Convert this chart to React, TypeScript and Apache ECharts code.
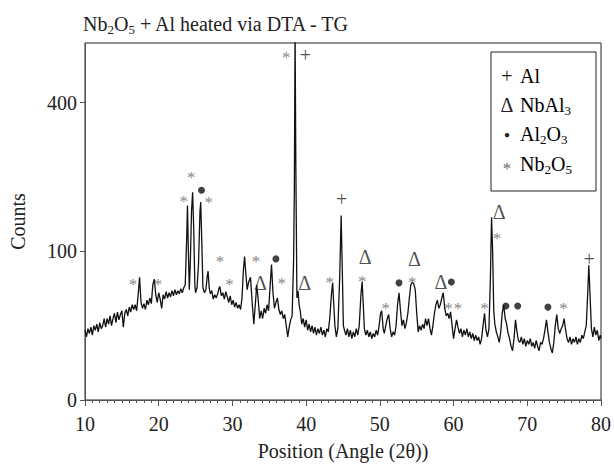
import React, { useEffect, useRef } from "react";
import * as echarts from "echarts";

// Diffraction pattern: [angle 2θ (deg), counts]
const pattern: [number, number][] = [
  [10.0, 22], [10.2, 18], [10.4, 23], [10.6, 20], [10.8, 24], [11.0, 19], [11.2, 25], [11.4, 22], [11.6, 26], [11.8, 21],
  [12.0, 27], [12.2, 23], [12.4, 25], [12.6, 30], [12.8, 24], [13.0, 30], [13.2, 26], [13.4, 32], [13.6, 25], [13.8, 30],
  [14.0, 34], [14.2, 27], [14.4, 35], [14.6, 29], [14.8, 33], [15.0, 36], [15.2, 24], [15.4, 34], [15.6, 37], [15.8, 32],
  [16.0, 39], [16.2, 35], [16.4, 41], [16.6, 37], [16.8, 41], [17.0, 36], [17.2, 49], [17.4, 68], [17.6, 43], [17.8, 38],
  [18.0, 42], [18.2, 37], [18.4, 45], [18.6, 41], [18.8, 47], [19.0, 42], [19.2, 60], [19.4, 66], [19.6, 50], [19.8, 43],
  [20.0, 52], [20.2, 46], [20.4, 38], [20.6, 50], [20.8, 46], [21.0, 53], [21.2, 47], [21.4, 52], [21.6, 48], [21.8, 54],
  [22.0, 49], [22.2, 55], [22.4, 50], [22.6, 54], [22.8, 51], [23.0, 56], [23.2, 52], [23.4, 57], [23.6, 60], [23.8, 120],
  [23.9, 171], [24.0, 111], [24.15, 55], [24.3, 89], [24.45, 161], [24.6, 195], [24.75, 132], [24.9, 60], [25.0, 52], [25.2, 57],
  [25.4, 84], [25.6, 161], [25.7, 177], [25.85, 111], [26.0, 57], [26.2, 52], [26.4, 55], [26.6, 70], [26.7, 75], [26.85, 57],
  [27.0, 51], [27.2, 54], [27.4, 46], [27.6, 50], [27.8, 47], [28.0, 51], [28.2, 57], [28.3, 58], [28.5, 49], [28.7, 52],
  [28.9, 46], [29.1, 53], [29.3, 48], [29.5, 43], [29.7, 49], [29.9, 41], [30.1, 45], [30.3, 39], [30.5, 43], [30.7, 38],
  [30.9, 41], [31.1, 37], [31.3, 47], [31.5, 78], [31.65, 93], [31.8, 74], [32.0, 55], [32.2, 63], [32.45, 68], [32.7, 41],
  [32.9, 26], [33.1, 41], [33.3, 60], [33.5, 45], [33.7, 30], [33.9, 36], [34.1, 30], [34.3, 38], [34.5, 34], [34.7, 41],
  [34.9, 36], [35.1, 57], [35.3, 83], [35.5, 52], [35.7, 38], [35.9, 43], [36.1, 47], [36.3, 37], [36.5, 33], [36.7, 36],
  [36.9, 30], [37.1, 33], [37.3, 25], [37.5, 18], [37.7, 24], [37.9, 29], [38.1, 32], [38.3, 89], [38.4, 200], [38.5, 620],
  [38.6, 250], [38.75, 47], [38.9, 54], [39.05, 41], [39.2, 36], [39.4, 26], [39.6, 30], [39.8, 24], [40.0, 29], [40.2, 22],
  [40.4, 26], [40.6, 21], [40.8, 25], [41.0, 20], [41.2, 24], [41.4, 19], [41.6, 23], [41.8, 20], [42.0, 24], [42.2, 19],
  [42.4, 22], [42.6, 18], [42.8, 23], [43.0, 21], [43.2, 30], [43.45, 52], [43.6, 62], [43.75, 41], [43.9, 25], [44.1, 18],
  [44.3, 23], [44.55, 68], [44.75, 154], [44.9, 78], [45.05, 25], [45.2, 22], [45.4, 19], [45.6, 23], [45.8, 18], [46.0, 22],
  [46.2, 17], [46.4, 21], [46.6, 18], [46.8, 23], [47.0, 19], [47.2, 25], [47.45, 52], [47.6, 63], [47.75, 41], [47.9, 23],
  [48.1, 19], [48.3, 22], [48.5, 18], [48.7, 21], [48.9, 17], [49.1, 20], [49.3, 18], [49.5, 22], [49.7, 19], [49.9, 25],
  [50.1, 34], [50.25, 36], [50.45, 23], [50.6, 20], [50.8, 25], [51.0, 30], [51.2, 33], [51.4, 23], [51.6, 18], [51.8, 21],
  [52.0, 19], [52.2, 25], [52.4, 41], [52.6, 52], [52.8, 36], [53.0, 25], [53.2, 29], [53.4, 23], [53.6, 27], [53.8, 34],
  [54.0, 47], [54.2, 60], [54.4, 63], [54.6, 61], [54.8, 55], [55.0, 34], [55.2, 21], [55.4, 25], [55.6, 22], [55.8, 26],
  [56.0, 23], [56.2, 30], [56.4, 25], [56.6, 30], [56.8, 23], [57.0, 19], [57.2, 25], [57.4, 34], [57.6, 41], [57.8, 45],
  [58.0, 38], [58.2, 41], [58.4, 47], [58.6, 52], [58.8, 38], [59.0, 32], [59.2, 34], [59.4, 30], [59.6, 35], [59.8, 25],
  [60.0, 17], [60.2, 23], [60.4, 29], [60.6, 24], [60.8, 20], [61.0, 23], [61.2, 18], [61.4, 22], [61.6, 19], [61.8, 23],
  [62.0, 18], [62.2, 21], [62.4, 17], [62.6, 20], [62.8, 16], [63.0, 19], [63.2, 16], [63.4, 18], [63.6, 14], [63.8, 17],
  [64.0, 25], [64.2, 34], [64.4, 22], [64.6, 18], [64.8, 23], [65.0, 68], [65.15, 151], [65.3, 100], [65.45, 36], [65.6, 26],
  [65.8, 21], [66.0, 18], [66.2, 15], [66.4, 21], [66.6, 34], [66.8, 41], [67.0, 30], [67.2, 26], [67.4, 20], [67.6, 17],
  [67.8, 13], [68.0, 11], [68.2, 17], [68.4, 29], [68.6, 21], [68.8, 16], [69.0, 15], [69.2, 18], [69.4, 14], [69.6, 17],
  [69.8, 13], [70.0, 16], [70.2, 14], [70.4, 17], [70.6, 13], [70.8, 15], [71.0, 12], [71.2, 16], [71.4, 13], [71.6, 11],
  [71.8, 15], [72.0, 14], [72.2, 17], [72.4, 22], [72.6, 29], [72.8, 21], [73.0, 15], [73.2, 12], [73.4, 10], [73.6, 15],
  [73.8, 25], [74.0, 33], [74.2, 23], [74.4, 20], [74.6, 23], [74.8, 25], [75.0, 30], [75.2, 22], [75.4, 17], [75.6, 15],
  [75.8, 18], [76.0, 14], [76.2, 17], [76.4, 15], [76.6, 18], [76.8, 14], [77.0, 17], [77.2, 15], [77.4, 19], [77.6, 17],
  [77.8, 21], [78.0, 25], [78.2, 52], [78.35, 82], [78.5, 52], [78.7, 23], [78.9, 18], [79.1, 24], [79.3, 19], [79.5, 22],
  [79.7, 16], [79.9, 19], [80.0, 17],
];

// Phase markers: [angle, counts at which the marker sits]
const plusMarks: [number, number][] = [[39.9, 539], [44.8, 182], [78.4, 90]];
const deltaMarks: [number, number][] = [[33.8, 62], [39.8, 62], [48.0, 92], [54.7, 90], [58.3, 63], [66.2, 159]];
const dotMarks: [number, number][] = [[25.8, 199], [35.9, 90], [52.6, 62], [59.7, 63], [67.1, 40], [68.7, 40], [72.8, 39]];
const starMarks: [number, number][] = [
  [16.5, 65], [19.9, 65], [23.4, 186], [24.4, 232], [26.8, 184], [28.3, 92], [29.6, 65], [33.2, 92], [36.7, 66],
  [37.3, 542], [43.2, 67], [47.6, 68], [50.8, 41], [54.4, 67], [59.3, 41], [60.6, 41], [64.2, 41], [65.9, 124], [74.9, 41],
];

const yTickCounts = [0, 100, 400];
const yMaxCounts = 576;
const xMin = 10;
const xMax = 80;
const xStep = 10;

const FONT = "Liberation Serif";

// square-root intensity scale
const toAxis = (c: number) => Math.sqrt(Math.max(c, 0));
const fromAxis = (v: number) => v * v;

export default function App() {
  const ref = useRef<HTMLDivElement>(null);

  useEffect(() => {
    if (!ref.current) return;
    const chart = echarts.init(ref.current, null, { renderer: "svg" });

    const markerSeries = (
      data: [number, number][],
      text: string,
      color: string,
      fontSize: number,
      offset: [number, number]
    ) => ({
      type: "scatter",
      data: data.map(([a, c]) => [a, toAxis(c)]),
      symbol: "circle",
      symbolSize: 1,
      color,
      itemStyle: { color: "rgba(255,255,255,0)" },
      silent: true,
      z: 5,
      clip: false,
      label: {
        show: true,
        position: "inside",
        formatter: text,
        color,
        fontSize,
        fontFamily: FONT,
        fontWeight: "normal",
        textBorderWidth: 0,
        textBorderColor: "transparent",
        offset,
      },
    });

    const sub = { fontSize: 13, fontFamily: FONT, color: "#222", padding: [11, 0, 0, 0] };
    const main = { fontSize: 20, fontFamily: FONT, color: "#222" };

    const legendRows = [
      { sym: "+", text: "{a|Al}", y: 76 },
      { sym: "Δ", text: "{a|NbAl}{s|3}", y: 105 },
      { sym: "●", text: "{a|Al}{s|2}{a|O}{s|3}", y: 134 },
      { sym: "*", text: "{a|Nb}{s|2}{a|O}{s|5}", y: 164 },
    ];

    const option: any = {
      animation: false,
      backgroundColor: "#ffffff",
      title: {
        text: "{a|Nb}{s|2}{a|O}{s|5}{a| + Al heated via DTA - TG}",
        left: 83,
        top: 12,
        padding: 0,
        textStyle: { fontWeight: "normal", fontFamily: FONT, rich: { a: main, s: sub } },
      },
      grid: {
        left: 84,
        top: 43,
        width: 517,
        height: 357,
        show: true,
        borderColor: "#222",
        borderWidth: 1,
        backgroundColor: "transparent",
      },
      xAxis: {
        type: "value",
        min: xMin,
        max: xMax,
        interval: xStep,
        name: "Position (Angle (2θ))",
        nameLocation: "middle",
        nameGap: 41,
        nameTextStyle: { fontSize: 20, fontFamily: FONT, color: "#222" },
        axisLine: { lineStyle: { color: "#555", width: 1 } },
        axisTick: { show: true, length: 6, lineStyle: { color: "#555" } },
        minorTick: { show: true, splitNumber: 10, length: 3, lineStyle: { color: "#555" } },
        splitLine: { show: false },
        axisLabel: { fontSize: 20, fontFamily: FONT, color: "#222", margin: 14 },
      },
      yAxis: {
        type: "value",
        min: 0,
        max: toAxis(yMaxCounts),
        name: "Counts",
        nameLocation: "middle",
        nameGap: 57,
        nameTextStyle: { fontSize: 20, fontFamily: FONT, color: "#222" },
        axisLine: { show: true, lineStyle: { color: "#555", width: 1 } },
        axisTick: {
          show: true,
          length: 5,
          customValues: yTickCounts.map(toAxis),
          lineStyle: { color: "#555" },
        },
        axisLabel: {
          fontSize: 20,
          fontFamily: FONT,
          color: "#222",
          margin: 8,
          customValues: yTickCounts.map(toAxis),
          formatter: (v: number) => String(Math.round(fromAxis(v))),
        },
        splitLine: { show: false },
      },
      series: [
        {
          type: "line",
          data: pattern.map(([a, c]) => [a, toAxis(c)]),
          showSymbol: false,
          symbol: "none",
          lineStyle: { color: "#111", width: 1.3 },
          silent: true,
          z: 3,
        },
        markerSeries(plusMarks, "+", "#222", 20, [0, 0]),
        markerSeries(deltaMarks, "Δ", "#222", 20, [0, 0]),
        markerSeries(starMarks, "*", "#666", 17, [0, 4]),
        {
          type: "scatter",
          data: dotMarks.map(([a, c]) => [a, toAxis(c)]),
          symbol: "circle",
          symbolSize: 7,
          itemStyle: { color: "#111" },
          silent: true,
          z: 5,
        },
      ],
      graphic: [
        {
          type: "rect",
          shape: { x: 491, y: 52, width: 105, height: 139 },
          style: { fill: "#fff", stroke: "#222", lineWidth: 1 },
          z: 10,
        },
        ...legendRows.flatMap((r) => [
          {
            type: "text",
            x: 507,
            y: r.sym === "*" ? r.y + 4 : r.y,
            z: 11,
            style: {
              text: r.sym,
              fontSize: r.sym === "●" ? 10 : r.sym === "*" ? 17 : 20,
              fontFamily: FONT,
              fill: r.sym === "*" ? "#666" : "#222",
              align: "center",
              verticalAlign: "middle",
            },
          },
          {
            type: "text",
            x: 520,
            y: r.y,
            z: 11,
            style: {
              text: r.text,
              fontFamily: FONT,
              align: "left",
              verticalAlign: "middle",
              rich: { a: main, s: sub },
            },
          },
        ]),
      ],
    };

    chart.setOption(option);
    return () => chart.dispose();
  }, []);

  return (
    <div
      ref={ref}
      style={{ position: "fixed", left: 0, top: 0, width: 614, height: 470, background: "#fff" }}
    />
  );
}
